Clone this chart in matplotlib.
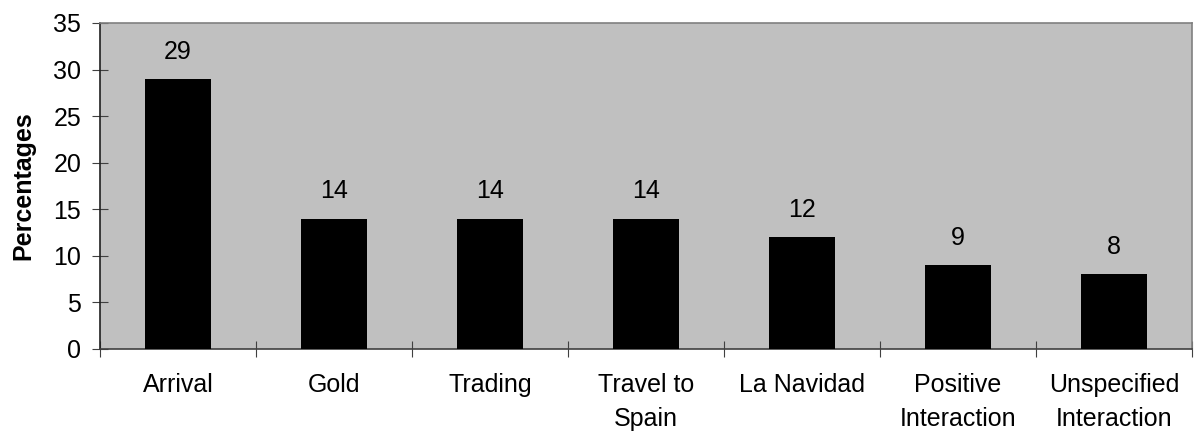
import numpy as np
import matplotlib.pyplot as plt
from matplotlib.ticker import FixedLocator

plt.rcParams['font.family'] = ['Liberation Sans', 'DejaVu Sans']

categories = ["Arrival", "Gold", "Trading", "Travel to\nSpain", "La Navidad",
              "Positive\nInteraction", "Unspecified\nInteraction"]
percentages = [29, 14, 14, 14, 12, 9, 8]

FS = 18

fig = plt.figure(figsize=(11.95, 4.37), dpi=100)
ax = fig.add_axes([0.0837, 0.2014, 0.9138, 0.746])
ax.set_facecolor('#c0c0c0')

x = np.arange(len(categories))
bars = ax.bar(x, percentages, width=0.42, color='black', zorder=3)

for xi, v in zip(x, percentages):
    ax.annotate(str(v), (xi, v), xytext=(0, 11), textcoords='offset points',
                ha='center', va='bottom', fontsize=FS)

ax.set_xlim(-0.5, len(categories) - 0.5)
ax.set_ylim(0, 35)
ax.set_yticks(np.arange(0, 36, 5))

# category boundaries get the tick marks, centres get the labels
ax.xaxis.set_major_locator(FixedLocator(np.arange(-0.5, len(categories), 1.0)))
ax.xaxis.set_minor_locator(FixedLocator(x))
ax.set_xticklabels([], minor=False)
ax.set_xticklabels(categories, minor=True, fontsize=FS, linespacing=1.55,
                   va='top')
ax.tick_params(axis='x', which='major', direction='inout', length=11,
               width=0.8, color='#404040')
ax.tick_params(axis='x', which='minor', length=0, pad=17)
ax.tick_params(axis='y', direction='inout', length=11, width=0.8,
               labelsize=FS, pad=8, color='#404040')

ax.set_ylabel("Percentages", fontsize=FS, fontweight='bold', labelpad=13)

ax.spines['left'].set_color('#202020')
ax.spines['bottom'].set_color('#404040')
ax.spines['top'].set_color('#808080')
ax.spines['right'].set_color('#808080')
for s in ax.spines.values():
    s.set_linewidth(1.2)

fig.savefig('out.png', dpi=100, facecolor='white')
